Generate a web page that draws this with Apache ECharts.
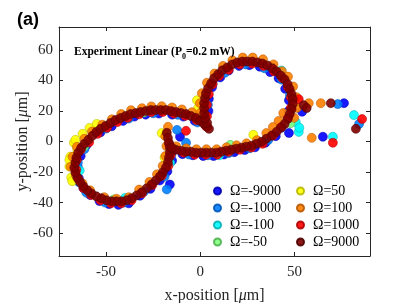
<!DOCTYPE html>
<html><head><meta charset="utf-8">
<script src="https://cdn.jsdelivr.net/npm/echarts@6/dist/echarts.min.js"></script>
<style>html,body{margin:0;padding:0;background:#fff}#c{width:407px;height:303px}</style>
</head><body><div id="c"></div>
<script>
const xTicks = [-50, 0, 50];
const yTicks = [-60, -40, -20, 0, 20, 40, 60];
const seriesNames = ['Ω=-9000','Ω=-1000','Ω=-100','Ω=-50','Ω=50','Ω=100','Ω=1000','Ω=9000'];

const omegaM9000 = [[-14.5,-6.0],[-15.0,-12.5],[-17.5,-19.5],[-21.5,-25.5],[-26.5,-31.0],[-32.0,-35.5],[-38.0,-40.5],[-43.5,-41.5],[-48.5,-41.0],[-53.5,-39.0],[-58.5,-35.0],[-62.0,-30.5],[-64.5,-24.0],[-65.0,-17.0],[-63.5,-9.5],[-60.5,-2.5],[-53.0,6.0],[-47.0,10.0],[-41.0,13.5],[-35.0,16.3],[-29.0,17.6],[-22.0,18.3],[-15.0,17.6],[-9.0,16.3],[-3.0,13.5],[4.3,20.0],[4.5,28.0],[6.2,35.5],[10.5,42.0],[15.0,46.5],[20.5,49.5],[26.0,50.0],[31.5,49.0],[37.0,45.5],[41.5,41.5],[45.0,34.5],[47.0,27.0],[46.8,20.0],[54.0,19.5],[47.0,5.6],[40.0,3.5],[34.5,-0.8],[29.0,-3.8],[23.5,-5.6],[18.0,-7.0],[12.5,-8.5],[7.0,-9.5],[1.5,-9.5],[-4.0,-9.0],[-9.5,-8.3],[76.2,25.1],[65.0,3.1],[-10.8,3.1],[-16.2,-28.2]];
const omegaM1000 = [[72.9,24.5],[84.2,11.5],[-12.4,7.6],[-7.6,-0.8],[-17.8,-31.4],[-15.5,-9.0],[-19.0,-23.0],[-30.0,-33.0],[-40.5,-40.0],[-50.5,-40.0],[-60.5,-33.5],[-64.5,-26.5],[-65.0,-14.0],[-61.5,-5.0],[-50.0,8.5],[-38.0,15.0],[-25.0,18.5],[-12.0,17.5],[-1.5,12.5],[4.0,24.0],[6.5,38.0],[13.0,45.0],[24.0,50.5],[34.0,48.0],[43.0,40.5],[47.5,30.0],[47.5,19.0],[43.0,9.0],[36.0,1.0],[26.0,-4.5],[15.0,-7.5],[4.0,-9.0],[-6.0,-8.5]];
const omegaM100 = [[81.5,17.3],[70.3,3.1],[52.2,6.3],[50.6,12.7],[52.5,9.0],[43.0,46.5],[-40.0,-37.0],[-64.0,-19.0],[10.0,-9.0],[-16.0,-14.0]];
const omegaM50 = [[-61.5,-3.0],[-46.0,-38.0],[-16.0,-3.0],[21.0,52.0],[47.8,12.0],[15.9,-2.2],[-30.0,19.0]];
const omegaP50 = [[-67.1,-0.8],[-69.0,-9.9],[-69.5,-16.4],[-68.5,-23.6],[-68.0,-26.0],[-58.8,8.9],[-65.3,-5.4],[-66.3,1.1],[-62.5,5.0],[-55.0,11.5],[-1.2,21.8],[-1.8,27.0],[28.1,4.4],[-20.5,5.5],[-19.0,-10.5],[-69.5,-12.0]];
const omegaP100 = [[-17.2,9.6],[-18.6,3.5],[-18.0,-3.0],[-18.5,-9.5],[-20.0,-16.0],[-23.0,-21.5],[-27.0,-26.5],[-32.5,-31.5],[-38.0,-36.5],[-44.5,-37.5],[-51.0,-36.5],[-58.5,-32.0],[-62.5,-27.5],[-66.0,-22.0],[-68.8,-16.5],[-67.8,-10.0],[-65.5,-3.5],[-61.5,1.8],[-57.5,6.5],[-52.0,11.0],[-47.0,14.5],[-42.0,18.0],[-36.8,20.5],[-31.0,21.8],[-26.0,23.0],[-20.5,23.1],[-15.0,22.3],[-9.8,21.0],[-4.5,19.2],[-0.5,16.5],[2.0,13.5],[0.0,18.6],[-0.2,25.1],[0.8,31.6],[3.5,38.5],[7.5,44.5],[12.0,49.5],[17.0,53.2],[22.5,55.0],[27.8,55.0],[33.2,53.8],[38.8,50.5],[43.2,46.0],[46.5,42.5],[49.2,36.0],[51.0,29.0],[51.2,22.0],[49.8,15.5],[44.0,18.6],[41.5,13.5],[38.5,9.5],[35.0,5.5],[30.0,0.9],[24.5,-1.2],[19.2,-2.5],[13.9,-3.8],[8.6,-5.1],[3.2,-5.1],[-2.1,-5.1],[-7.5,-4.5],[-12.8,-3.2],[63.9,25.1],[59.1,2.4],[57.5,25.1]];
const omegaP1000 = [[-16.5,-2.0],[-15.8,-9.0],[-17.0,-16.0],[-20.5,-22.5],[-25.5,-28.5],[-31.0,-34.0],[-36.5,-38.5],[-42.0,-40.5],[-47.5,-40.5],[-53.0,-38.5],[-58.0,-35.0],[-62.0,-30.5],[-64.5,-25.0],[-65.8,-18.5],[-65.5,-12.0],[-63.5,-5.5],[-59.0,-0.5],[-54.5,5.0],[-49.5,9.0],[-44.0,12.8],[-38.5,15.5],[-32.5,17.8],[-26.0,19.3],[-20.0,19.3],[-14.0,18.3],[-8.0,16.8],[-2.0,14.0],[3.0,10.0],[3.5,16.5],[3.5,24.0],[4.5,31.0],[6.5,37.5],[10.0,43.0],[15.0,47.0],[21.0,50.5],[27.5,51.0],[33.5,49.5],[39.0,46.0],[43.5,41.5],[46.5,35.5],[48.0,29.0],[48.0,22.0],[46.5,15.5],[43.0,9.5],[38.5,4.0],[33.0,-1.5],[27.0,-4.0],[21.0,-5.4],[15.0,-6.8],[9.0,-8.6],[3.0,-8.6],[-3.0,-8.6],[-9.0,-7.3],[85.8,14.7],[70.3,-0.8],[-7.6,7.0],[52.2,27.7]];
const omegaP9000 = [[-17.8,5.7],[-17.2,2.4],[-16.7,-0.8],[-16.2,-4.1],[-16.2,-7.3],[-16.7,-10.6],[-17.2,-13.8],[-18.3,-17.1],[-19.9,-20.3],[-21.5,-22.9],[-23.6,-25.5],[-25.8,-28.1],[-28.5,-30.7],[-31.1,-33.3],[-33.8,-35.3],[-36.5,-37.2],[-39.1,-38.5],[-41.8,-39.2],[-44.5,-39.2],[-47.1,-39.2],[-49.8,-38.5],[-52.5,-37.2],[-55.2,-35.9],[-57.8,-34.0],[-60.0,-32.0],[-62.1,-29.4],[-63.7,-26.8],[-65.3,-23.6],[-66.3,-20.3],[-66.9,-17.1],[-66.3,-13.8],[-65.8,-10.6],[-64.8,-7.3],[-63.2,-4.1],[-61.5,-1.5],[-59.4,1.1],[-57.3,3.7],[-55.2,6.3],[-53.0,8.3],[-50.3,10.2],[-47.7,12.1],[-45.0,14.1],[-42.3,15.4],[-39.7,16.7],[-37.0,18.0],[-34.3,18.6],[-31.7,19.3],[-29.0,19.9],[-26.3,20.6],[-23.7,20.6],[-21.0,20.6],[-18.3,20.6],[-15.6,19.9],[-13.0,19.3],[-10.3,18.6],[-7.6,18.0],[-5.0,16.7],[-2.3,15.4],[-0.2,13.5],[2.0,11.5],[3.6,9.6],[4.6,8.3],[3.6,12.2],[2.5,15.4],[2.0,18.6],[2.0,21.9],[2.0,25.1],[2.5,28.4],[3.0,31.6],[4.1,34.8],[5.7,38.1],[7.3,41.4],[9.4,44.0],[11.6,46.6],[14.3,48.5],[16.9,50.5],[19.6,51.8],[22.3,52.4],[24.9,52.4],[27.6,52.4],[30.3,51.8],[32.9,51.1],[35.6,49.8],[38.3,47.9],[40.4,45.9],[42.6,43.3],[44.7,40.7],[46.3,37.5],[47.4,34.2],[48.4,31.0],[49.0,27.7],[49.0,24.5],[48.4,21.2],[47.4,17.9],[46.3,14.7],[44.7,11.5],[42.6,8.9],[40.4,6.3],[37.7,3.7],[35.0,1.8],[32.4,-0.2],[29.7,-1.5],[27.0,-2.8],[24.3,-3.4],[21.7,-4.1],[19.0,-4.7],[16.4,-5.4],[13.7,-6.0],[11.0,-6.7],[8.4,-7.3],[5.7,-7.3],[3.0,-7.3],[0.4,-7.3],[-2.3,-7.3],[-5.0,-6.7],[-7.6,-6.7],[-10.3,-6.0],[-13.0,-5.4],[-15.1,-4.1],[69.2,25.1],[82.5,8.3],[54.8,23.8],[56.4,21.9]];

const seriesData = [omegaM9000, omegaM1000, omegaM100, omegaM50, omegaP50, omegaP100, omegaP1000, omegaP9000];
const fills = ['#0000ff','#0080ff','#00ffff','#80ff80','#ffff00','#ff8000','#ff0000','#800000'];
const edges = ['#0000b0','#0058b8','#00b0b8','#50b050','#b8b800','#b85800','#b00000','#500000'];

const serif = 'Liberation Serif, Times New Roman, serif';
const axColor = '#262626';

const chart = echarts.init(document.getElementById('c'), null, {renderer: 'canvas'});
const axisCommon = {
  type: 'value',
  axisLine: {show: true, onZero: false, lineStyle: {color: axColor, width: 1}},
  splitLine: {show: false}
};
const legendText = {fontFamily: serif, fontSize: 14, color: '#000', lineHeight: 16, padding: [0, 0, 0, 4]};
const nameStyle = {fontFamily: serif, fontSize: 16, color: axColor, rich: {i: {fontFamily: serif, fontStyle: 'italic', fontSize: 16, color: axColor}}};
const option = {
  animation: false,
  backgroundColor: '#fff',
  grid: {left: 59, right: 37, top: 27, bottom: 47, containLabel: false, outerBoundsMode: 'none'},
  title: [
    {text: '(a)', left: 12, top: 6, textStyle: {fontFamily: 'Liberation Sans, Arial, sans-serif', fontSize: 18, fontWeight: 'bold', color: '#000'}},
    {text: '{a|Experiment Linear (P}{s|0}{a|=0.2 mW)}', left: 69, top: 38,
     textStyle: {rich: {
       a: {fontFamily: serif, fontSize: 11.5, fontWeight: 'bold', color: '#000', lineHeight: 18, verticalAlign: 'middle'},
       s: {fontFamily: serif, fontSize: 8, fontWeight: 'bold', color: '#000', lineHeight: 7, verticalAlign: 'bottom'}
     }}}
  ],
  legend: [
    {data: seriesNames.slice(0, 4), orient: 'vertical', left: 208, top: 178, itemWidth: 7, itemHeight: 7, itemGap: 1, icon: 'circle', textStyle: legendText},
    {data: seriesNames.slice(4), orient: 'vertical', left: 291, top: 178, itemWidth: 7, itemHeight: 7, itemGap: 1, icon: 'circle', textStyle: legendText}
  ],
  xAxis: [
    Object.assign({}, axisCommon, {min: -75, max: 90, position: 'bottom',
      axisTick: {show: true, inside: true, length: 4, customValues: xTicks, lineStyle: {color: axColor}},
      axisLabel: {show: true, customValues: xTicks, fontFamily: serif, fontSize: 15, color: axColor, margin: 9},
      name: 'x-position [{i|μ}m]', nameLocation: 'middle', nameGap: 32, nameMoveOverlap: false,
      nameTextStyle: nameStyle}),
    Object.assign({}, axisCommon, {min: -75, max: 90, position: 'top',
      axisTick: {show: true, inside: true, length: 4, customValues: xTicks, lineStyle: {color: axColor}},
      axisLabel: {show: false}})
  ],
  yAxis: [
    Object.assign({}, axisCommon, {min: -75, max: 75, position: 'left',
      axisTick: {show: true, inside: true, length: 4, customValues: yTicks, lineStyle: {color: axColor}},
      axisLabel: {show: true, customValues: yTicks, fontFamily: serif, fontSize: 15, color: axColor, margin: 6},
      name: 'y-position [{i|μ}m]', nameLocation: 'middle', nameGap: 28, nameMoveOverlap: false,
      nameTextStyle: nameStyle}),
    Object.assign({}, axisCommon, {min: -75, max: 75, position: 'right',
      axisTick: {show: true, inside: true, length: 4, customValues: yTicks, lineStyle: {color: axColor}},
      axisLabel: {show: false}})
  ],
  series: seriesNames.map((n, i) => ({
    name: n, type: 'scatter', xAxisIndex: 0, yAxisIndex: 0,
    data: seriesData[i], symbol: 'circle', symbolSize: 9,
    itemStyle: {color: fills[i], borderColor: edges[i], borderWidth: 0.6, opacity: 0.9},
    emphasis: {disabled: true}
  }))
};
chart.setOption(option);
</script></body></html>
